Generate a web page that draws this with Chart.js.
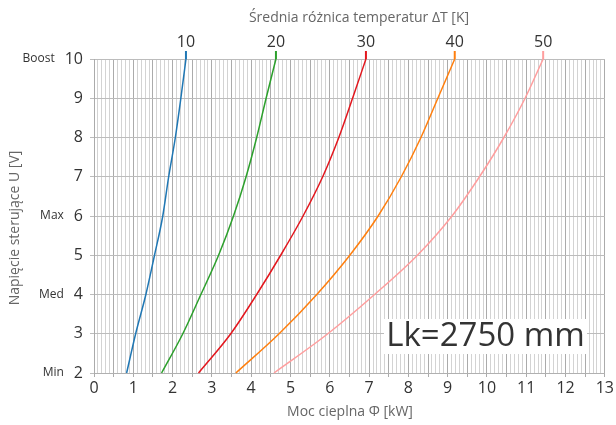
<!DOCTYPE html>
<html>
<head>
<meta charset="utf-8">
<script src="https://cdn.jsdelivr.net/npm/chart.js@4.4.1/dist/chart.umd.min.js"></script>
<style>
html,body{margin:0;padding:0;background:#fff;}
#wrap{width:616px;height:425px;}
</style>
</head>
<body>
<div id="wrap"><canvas id="c" width="616" height="425"></canvas></div>
<script>
// Voltages (y) and heat output (x, kW) per mean temperature difference
const voltages = [2, 3, 4, 5, 6, 7, 8, 9, 10];
const dT10 = [0.83, 1.06, 1.32, 1.54, 1.75, 1.90, 2.07, 2.21, 2.34];
const dT20 = [1.72, 2.26, 2.72, 3.17, 3.55, 3.87, 4.14, 4.38, 4.63];
const dT30 = [2.66, 3.48, 4.14, 4.75, 5.32, 5.82, 6.23, 6.58, 6.92];
const dT40 = [3.61, 4.71, 5.67, 6.51, 7.23, 7.82, 8.32, 8.75, 9.18];
const dT50 = [4.58, 5.95, 7.14, 8.23, 9.11, 9.81, 10.43, 10.97, 11.43];
const seriesLabels = ['10', '20', '30', '40', '50'];
const seriesColors = ['#1f77b4', '#2ca02c', '#e3171e', '#ff7f0e', '#ff9e9e'];
const yNames = {10: 'Boost', 6: 'Max', 4: 'Med', 2: 'Min'};
const topTitle = 'Średnia różnica temperatur ΔT [K]';
const xTitle = 'Moc cieplna Φ [kW]';
const yTitle = 'Napięcie sterujące U [V]';
const boxText = 'Lk=2750 mm';

const FONT = '"Open Sans", "Noto Sans", sans-serif';
const allSeries = [dT10, dT20, dT30, dT40, dT50];

const datasets = allSeries.map((s, i) => ({
  label: seriesLabels[i],
  data: s.map((x, j) => ({x: x, y: voltages[j]})),
  borderColor: seriesColors[i],
  backgroundColor: seriesColors[i],
  borderWidth: 1.5,
  pointRadius: 0,
  cubicInterpolationMode: 'monotone',
  clip: false,
  fill: false
}));

const extras = {
  id: 'extras',
  afterDraw(chart) {
    const ctx = chart.ctx;
    const xs = chart.scales.x, ys = chart.scales.y;
    const top = chart.chartArea.top;
    ctx.save();
    // top ticks + labels
    chart.data.datasets.forEach((ds, i) => {
      const last = ds.data[ds.data.length - 1];
      const px = xs.getPixelForValue(last.x);
      ctx.strokeStyle = ds.borderColor;
      ctx.lineWidth = 2;
      ctx.beginPath();
      ctx.moveTo(px, top);
      ctx.lineTo(px, top - 8);
      ctx.stroke();
      ctx.fillStyle = '#333';
      ctx.font = '16px ' + FONT;
      ctx.textAlign = 'center';
      ctx.textBaseline = 'middle';
      ctx.fillText(ds.label, px, top - 17);
    });
    // top title
    ctx.fillStyle = '#666';
    ctx.font = '14px ' + FONT;
    ctx.textAlign = 'center';
    ctx.textBaseline = 'middle';
    ctx.fillText(topTitle, 359, 18);
    // x title
    ctx.fillText(xTitle, 350, 412);
    // y title
    ctx.save();
    ctx.translate(15, 228);
    ctx.rotate(-Math.PI / 2);
    ctx.fillText(yTitle, 0, 0);
    ctx.restore();
    // y names
    Object.keys(yNames).forEach(k => {
      const v = Number(k);
      const py = ys.getPixelForValue(v);
      ctx.font = '16px ' + FONT;
      const w = ctx.measureText(String(v)).width;
      ctx.font = '12px ' + FONT;
      ctx.fillStyle = '#333';
      ctx.textAlign = 'right';
      ctx.textBaseline = 'middle';
      ctx.fillText(yNames[k], 83 - w - 10, py);
    });
    // Lk box
    ctx.fillStyle = '#fff';
    ctx.fillRect(384, 319, 203, 35);
    ctx.fillStyle = '#333';
    ctx.font = '33px ' + FONT;
    ctx.textAlign = 'center';
    ctx.textBaseline = 'middle';
    ctx.fillText(boxText, 485.5, 337);
    ctx.restore();
  }
};

new Chart(document.getElementById('c'), {
  type: 'line',
  data: {datasets: datasets},
  options: {
    responsive: false,
    animation: false,
    layout: {padding: {top: 59, right: 11, left: 0, bottom: 0}},
    plugins: {legend: {display: false}, tooltip: {enabled: false}},
    scales: {
      x: {
        type: 'linear',
        min: 0, max: 13,
        afterFit(s) { s.height = 52; },
        border: {color: '#b0b0b0'},
        grid: {
          color(c) { const k = Math.round(c.tick.value * 10); return k % 5 === 0 ? '#ababab' : '#d3d3d3'; },
          tickColor(c) { const k = Math.round(c.tick.value * 10); return k % 5 === 0 ? '#ababab' : 'rgba(0,0,0,0)'; },
          tickLength: 4,
          lineWidth: 1
        },
        ticks: {
          stepSize: 0.1,
          autoSkip: false,
          maxRotation: 0,
          padding: 2,
          color: '#333',
          font: {family: FONT, size: 16},
          callback(v) { const k = Math.round(v * 10); return k % 10 === 0 ? String(k / 10) : ''; }
        }
      },
      y: {
        type: 'linear',
        min: 2, max: 10,
        afterFit(s) { s.width = 94; },
        border: {color: '#ababab'},
        grid: {color: '#bcbcbc', tickColor: '#bcbcbc', tickLength: 4, lineWidth: 1},
        ticks: {
          stepSize: 1,
          padding: 7,
          color: '#333',
          font: {family: FONT, size: 16}
        }
      }
    }
  },
  plugins: [extras]
});
</script>
</body>
</html>
